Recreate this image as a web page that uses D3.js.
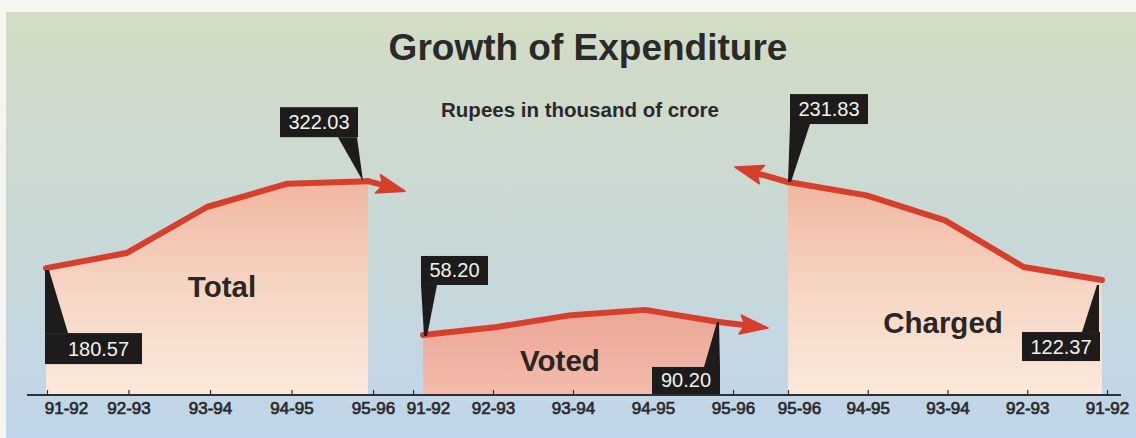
<!DOCTYPE html>
<html>
<head>
<meta charset="utf-8">
<script src="https://cdn.jsdelivr.net/npm/d3@7"></script>
<style>
  html, body { margin: 0; padding: 0; background: #ffffff; }
  svg { display: block; font-family: "Liberation Sans", Arial, sans-serif; }
</style>
</head>
<body>
<svg id="chart" width="1136" height="438"></svg>
<script>
// ---- data (Rupees in thousand of crore) ----
const years = ["91-92", "92-93", "93-94", "94-95", "95-96"];
const yearsDesc = ["95-96", "94-95", "93-94", "92-93", "91-92"];
const totalValues = [180.57, 205, 280, 318, 322.03];
const votedValues = [58.20, 78, 107, 120, 90.20];
const chargedValues = [122.37, 137, 189, 217, 231.83];   // in the order of `years`
const panelNames = ["Total", "Voted", "Charged"];

const W = 1136, H = 438, axisY = 395;
const svg = d3.select("#chart");
const defs = svg.append("defs");

// ---- background ----
const bg = defs.append("linearGradient").attr("id", "bg")
  .attr("x1", 0).attr("y1", 0).attr("x2", 0).attr("y2", 1);
bg.selectAll("stop")
  .data([[0, "#d2ddc4"], [0.45, "#cad9d4"], [1, "#c0d5ea"]])
  .join("stop").attr("offset", d => d[0]).attr("stop-color", d => d[1]);

const lightFill = defs.append("linearGradient").attr("id", "fillLight")
  .attr("gradientUnits", "userSpaceOnUse")
  .attr("x1", 0).attr("y1", 178).attr("x2", 0).attr("y2", axisY);
lightFill.selectAll("stop")
  .data([[0, "#f0b59e"], [0.5, "#f6d5c3"], [1, "#fbe9dc"]])
  .join("stop").attr("offset", d => d[0]).attr("stop-color", d => d[1]);

const pinkFill = defs.append("linearGradient").attr("id", "fillPink")
  .attr("x1", 0).attr("y1", 0).attr("x2", 0).attr("y2", 1);
pinkFill.selectAll("stop")
  .data([[0, "#eda696"], [1, "#f2bcac"]])
  .join("stop").attr("offset", d => d[0]).attr("stop-color", d => d[1]);

svg.append("rect").attr("width", W).attr("height", H).attr("fill", "#f6f6f1");
svg.append("rect").attr("x", 6).attr("y", 12).attr("width", W - 6).attr("height", H - 12)
  .attr("fill", "url(#bg)");

// ---- titles ----
svg.append("text").attr("x", 588).attr("y", 60).attr("text-anchor", "middle")
  .attr("font-size", 37).attr("font-weight", "bold").attr("fill", "#2a2a2a")
  .text("Growth of Expenditure");
svg.append("text").attr("x", 580).attr("y", 117).attr("text-anchor", "middle")
  .attr("font-size", 20.5).attr("font-weight", "bold").attr("fill", "#2a2a2a")
  .text("Rupees in thousand of crore");

// ---- panels ----
const panels = [
  {
    name: panelNames[0], cats: years, values: totalValues,
    x: d3.scalePoint().domain(years).range([46, 368]),
    xAxis: d3.scalePoint().domain(years).range([47, 373]),
    y: d3.scaleLinear().domain([0, 350]).range([379, 164]),
    fill: "url(#fillLight)", labelPos: [222, 297], firstDx: 19,
    arrow: { from: "95-96", dx: 37, dy: 10 }
  },
  {
    name: panelNames[1], cats: years, values: votedValues,
    x: d3.scalePoint().domain(years).range([423, 719]),
    xAxis: d3.scalePoint().domain(years).range([413, 733]),
    y: d3.scaleLinear().domain([0, 150]).range([358.6, 297.7]),
    fill: "url(#fillPink)", labelPos: [560, 371], firstDx: 15,
    arrow: { from: "95-96", dx: 49, dy: 6 }
  },
  {
    name: panelNames[2], cats: years, values: chargedValues,
    x: d3.scalePoint().domain(yearsDesc).range([788, 1102]),
    xAxis: d3.scalePoint().domain(yearsDesc).range([788, 1107]),
    y: d3.scaleLinear().domain([0, 250]).range([389.6, 165.8]),
    fill: "url(#fillLight)", labelPos: [943, 333], firstDx: 11,
    arrow: { from: "95-96", dx: -53, dy: -15 }
  }
];

const lineColor = "#d63f2b";

panels.forEach(p => {
  const pts = p.cats.map((c, i) => ({ cat: c, value: p.values[i] }));
  const ordered = p.x.domain().map(c => pts.find(d => d.cat === c));

  const area = d3.area()
    .x(d => p.x(d.cat)).y0(axisY).y1(d => p.y(d.value));
  svg.append("path").datum(ordered).attr("d", area).attr("fill", p.fill);
  p.ordered = ordered;
});

// axis baseline
svg.append("line").attr("x1", 27).attr("x2", 1121).attr("y1", axisY).attr("y2", axisY)
  .attr("stroke", "#2a2f3c").attr("stroke-width", 2);

panels.forEach(p => {
  const g = svg.append("g").attr("transform", `translate(0,${axisY})`)
    .call(d3.axisBottom(p.xAxis).tickSize(-5).tickPadding(7));
  g.select(".domain").remove();
  g.selectAll(".tick line").attr("stroke", "#2a2f3c").attr("stroke-width", 1.2);
  g.selectAll(".tick text")
    .attr("font-size", 17).attr("font-family", "'Liberation Sans', Arial, sans-serif")
    .attr("fill", "#2a2a2a").attr("stroke", "#2a2a2a").attr("stroke-width", 0.7)
    .attr("dx", (d, i) => i === 0 ? p.firstDx : 0);

  // panel name
  svg.append("text").attr("x", p.labelPos[0]).attr("y", p.labelPos[1])
    .attr("text-anchor", "middle").attr("font-size", 29.5).attr("font-weight", "bold")
    .attr("fill", "#2a2624").text(p.name);
});

// lines and arrows
panels.forEach(p => {
  const line = d3.line().x(d => p.x(d.cat)).y(d => p.y(d.value));
  svg.append("path").datum(p.ordered).attr("d", line)
    .attr("fill", "none").attr("stroke", lineColor).attr("stroke-width", 6)
    .attr("stroke-linejoin", "round").attr("stroke-linecap", "round");

  const src = p.ordered.find(d => d.cat === p.arrow.from);
  const x0 = p.x(src.cat), y0 = p.y(src.value);
  const tx = x0 + p.arrow.dx, ty = y0 + p.arrow.dy;
  const len = Math.hypot(p.arrow.dx, p.arrow.dy);
  const ux = p.arrow.dx / len, uy = p.arrow.dy / len;
  const nx = -uy, ny = ux;
  const headLen = 28, hw = 9.5;
  const bx = tx - ux * headLen, by = ty - uy * headLen;
  svg.append("line").attr("x1", x0).attr("y1", y0)
    .attr("x2", bx + ux * 6).attr("y2", by + uy * 6)
    .attr("stroke", lineColor).attr("stroke-width", 6).attr("stroke-linecap", "round");
  svg.append("polygon")
    .attr("points", [
      [tx, ty],
      [bx + nx * hw, by + ny * hw],
      [bx + ux * 5, by + uy * 5],
      [bx - nx * hw, by - ny * hw]
    ].map(q => q.join(",")).join(" "))
    .attr("fill", lineColor).attr("stroke", lineColor).attr("stroke-width", 1.5)
    .attr("stroke-linejoin", "round");
});

// ---- value callouts ----
const callouts = [
  { panel: 0, cat: "91-92", box: [-1, 65, 97, 31], textDx: 5,
    wedge: [[-1, 2], [3, 2], [22, 65], [-1, 65]] },
  { panel: 0, cat: "95-96", box: [-88, -74, 78, 30], textDx: 0,
    wedge: [[-30, -44], [-11, -44], [-5, 0]] },
  { panel: 1, cat: "91-92", box: [-2, -79, 67, 29], textDx: 0,
    wedge: [[-2, -50], [14, -50], [4, 1], [1, 1]] },
  { panel: 1, cat: "95-96", box: [-67, 45, 68, 27], textDx: 0,
    wedge: [[0, 0], [1, 45], [-15, 45], [-2, 0]] },
  { panel: 2, cat: "95-96", box: [2, -88, 78, 30], textDx: 0,
    wedge: [[2, -58], [22, -58], [3, 0], [0, 0]] },
  { panel: 2, cat: "91-92", box: [-80, 52, 78, 29], textDx: 0,
    wedge: [[-5, 5], [-3, 5], [-3, 52], [-20, 52]] }
];

callouts.forEach(c => {
  const p = panels[c.panel];
  const d = p.ordered.find(e => e.cat === c.cat);
  const px = p.x(d.cat), py = p.y(d.value);
  const g = svg.append("g").attr("transform", `translate(${px},${py})`);
  g.append("polygon").attr("points", c.wedge.map(q => q.join(",")).join(" "))
    .attr("fill", "#1d1c1a");
  g.append("rect").attr("x", c.box[0]).attr("y", c.box[1])
    .attr("width", c.box[2]).attr("height", c.box[3]).attr("fill", "#1d1c1a");
  g.append("text")
    .attr("x", c.box[0] + c.box[2] / 2 + c.textDx)
    .attr("y", c.box[1] + c.box[3] / 2 + 7)
    .attr("text-anchor", "middle").attr("font-size", 20).attr("fill", "#f1f1ee")
    .text(d.value.toFixed(2));
});
</script>
</body>
</html>
